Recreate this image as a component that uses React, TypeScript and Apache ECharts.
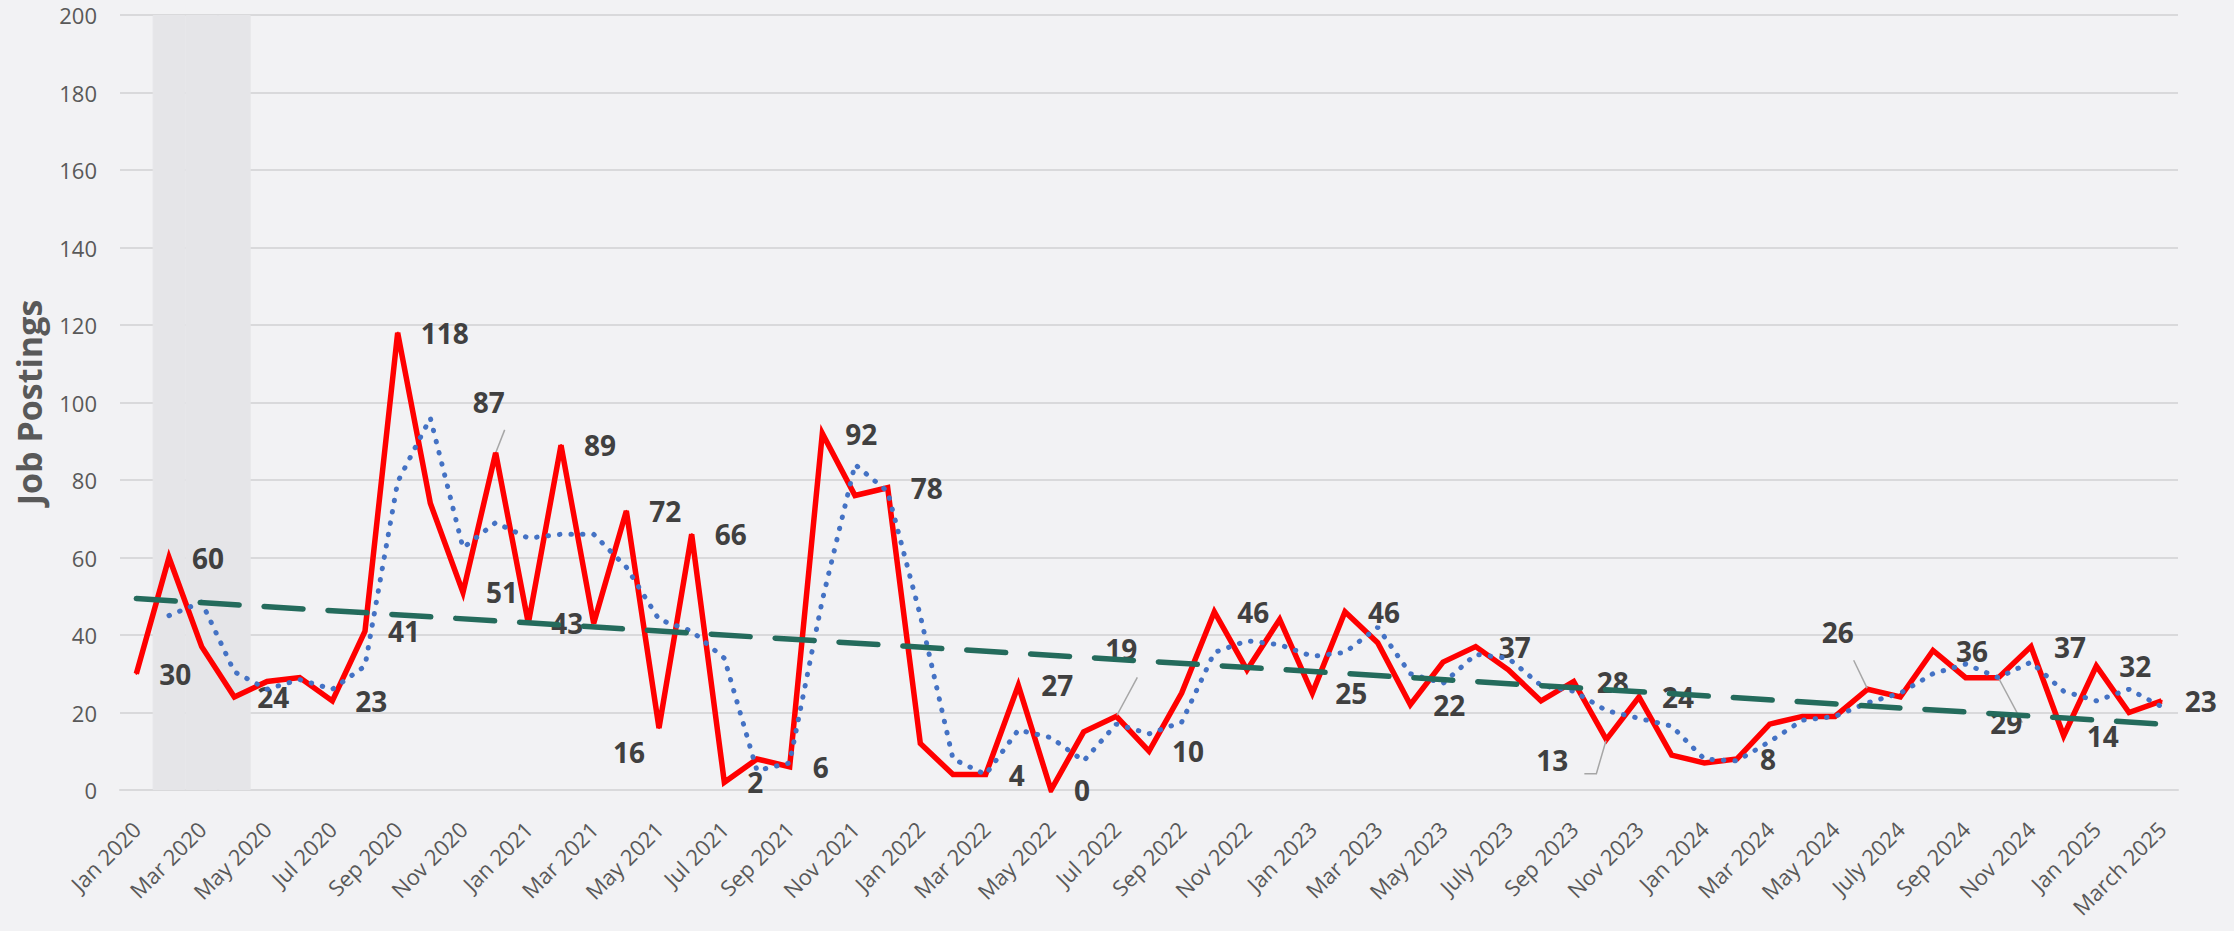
import React, { useEffect, useRef } from "react";
import * as echarts from "echarts";

// ---- data ----
const categories = [
  "Jan 2020", "Feb 2020", "Mar 2020", "Apr 2020", "May 2020", "Jun 2020", "Jul 2020", "Aug 2020", "Sep 2020", "Oct 2020", "Nov 2020", "Dec 2020",
  "Jan 2021", "Feb 2021", "Mar 2021", "Apr 2021", "May 2021", "Jun 2021", "Jul 2021", "Aug 2021", "Sep 2021", "Oct 2021", "Nov 2021", "Dec 2021",
  "Jan 2022", "Feb 2022", "Mar 2022", "Apr 2022", "May 2022", "Jun 2022", "Jul 2022", "Aug 2022", "Sep 2022", "Oct 2022", "Nov 2022", "Dec 2022",
  "Jan 2023", "Feb 2023", "Mar 2023", "Apr 2023", "May 2023", "Jun 2023", "July 2023", "Aug 2023", "Sep 2023", "Oct 2023", "Nov 2023", "Dec 2023",
  "Jan 2024", "Feb 2024", "Mar 2024", "Apr 2024", "May 2024", "Jun 2024", "July 2024", "Aug 2024", "Sep 2024", "Oct 2024", "Nov 2024", "Dec 2024",
  "Jan 2025", "Feb 2025", "March 2025",
];

const postings = [
  30, 60, 37, 24, 28, 29, 23, 41, 118, 74, 51, 87,
  43, 89, 43, 72, 16, 66, 2, 8, 6, 92, 76, 78,
  12, 4, 4, 27, 0, 15, 19, 10, 25, 46, 31, 44,
  25, 46, 38, 22, 33, 37, 31, 23, 28, 13, 24, 9,
  7, 8, 17, 19, 19, 26, 24, 36, 29, 29, 37, 14,
  32, 20, 23,
];

// 2-period moving average as drawn in the reference
const movingAvg = [
  null, 45, 48.5, 30.5, 26, 28.5, 26, 32, 79.5, 96, 62.5, 69,
  65, 66, 66, 57.5, 44, 41, 34, 5, 7, 49, 84, 77,
  45, 8, 4, 15.5, 13.5, 7.5, 17, 14.5, 17.5, 35.5, 38.5, 37.5,
  34.5, 35.5, 42, 30, 27.5, 35, 34, 27, 25.5, 20.5, 18.5, 16.5,
  8, 7.5, 12.5, 18, 19, 22.5, 25, 30, 32.5, 29, 33, 25.5,
  23, 26, 21.5,
];

const trendStart = 49.4;
const trendEnd = 17.0;

const shadedMonths = ["Feb 2020", "Mar 2020", "Apr 2020"];

const labeledMonths = [
  "Jan 2020", "Feb 2020", "Apr 2020", "Jul 2020", "Aug 2020", "Sep 2020", "Nov 2020", "Dec 2020",
  "Jan 2021", "Feb 2021", "Apr 2021", "May 2021", "Jun 2021", "Jul 2021", "Sep 2021", "Oct 2021", "Dec 2021",
  "Mar 2022", "Apr 2022", "May 2022", "Jul 2022", "Aug 2022", "Oct 2022",
  "Jan 2023", "Feb 2023", "Apr 2023", "Jun 2023", "Sep 2023", "Oct 2023", "Nov 2023",
  "Feb 2024", "Jun 2024", "Aug 2024", "Oct 2024", "Nov 2024", "Dec 2024",
  "Jan 2025", "March 2025",
];

const yMin = 0;
const yMax = 200;
const yStep = 20;

// ---- label placement (layout only) ----
const movedLabels: Record<string, { dx: number; dy: number; leader: boolean; bend?: number }> = {
  "Dec 2020": { dx: -7, dy: -51, leader: true },
  "May 2021": { dx: -30, dy: 24, leader: false },
  "Jul 2022": { dx: 5, dy: -67, leader: true },
  "Oct 2023": { dx: -54, dy: 20, leader: true, bend: 12 },
  "Jun 2024": { dx: -30, dy: -57, leader: true },
  "Oct 2024": { dx: 8, dy: 45, leader: true },
};

const FONT = "'Open Sans', 'Noto Sans', sans-serif";
const BG = "#f2f2f4";

export default function App() {
  const ref = useRef<HTMLDivElement>(null);

  useEffect(() => {
    document.body.style.margin = "0";
    document.body.style.background = BG;
    if (!ref.current) return;
    const chart = echarts.init(ref.current, null, { renderer: "svg" });

    const labelStyle = {
      fontFamily: FONT,
      fontWeight: "bold" as const,
      fontSize: 28,
      color: "#404040",
    };

    const lineData = postings.map((v, i) => {
      const cat = categories[i];
      const shown = labeledMonths.includes(cat);
      const mv = movedLabels[cat];
      if (!shown) return { value: v, label: { show: false } };
      if (mv) {
        return {
          value: v,
          label: { show: true, position: "inside", offset: [mv.dx, mv.dy], ...labelStyle },
          labelLine: {
            show: mv.leader,
            length2: mv.bend || 0,
            lineStyle: { color: "#a6a6a6", width: 1.5 },
          },
        };
      }
      return { value: v, label: { show: true, position: "right", distance: 22, ...labelStyle } };
    });

    const option: any = {
      animation: false,
      backgroundColor: BG,
      grid: { left: 120, right: 56, top: 15, bottom: 141, containLabel: false },
      xAxis: {
        type: "category",
        data: categories,
        boundaryGap: true,
        axisTick: { show: false },
        axisLine: { show: true, lineStyle: { color: "#d9d9db", width: 2 } },
        axisLabel: {
          interval: 1,
          rotate: 45,
          margin: 35,
          fontSize: 22,
          fontFamily: FONT,
          color: "#595959",
        },
        splitLine: { show: false },
      },
      yAxis: {
        type: "value",
        min: yMin,
        max: yMax,
        interval: yStep,
        name: "Job Postings",
        nameLocation: "middle",
        nameGap: 74,
        nameTextStyle: { fontSize: 34, fontWeight: "bold", fontFamily: FONT, color: "#595959" },
        axisLine: { show: false },
        axisTick: { show: false },
        axisLabel: { margin: 23, fontSize: 22, fontFamily: FONT, color: "#595959" },
        splitLine: { show: true, lineStyle: { color: "#d9d9db", width: 2 } },
      },
      series: [
        {
          type: "bar",
          data: categories.map((c) => (shadedMonths.includes(c) ? yMax : null)),
          barCategoryGap: "0%",
          barWidth: "100%",
          itemStyle: { color: "#e5e5e8", borderColor: "#e5e5e8", borderWidth: 1 },
          silent: true,
          z: 1,
        },
        {
          type: "line",
          name: "Job Postings",
          data: lineData,
          symbol: "circle",
          symbolSize: 2,
          showSymbol: true,
          itemStyle: { color: "#ff0000" },
          lineStyle: { color: "#ff0000", width: 5.5, join: "miter" },
          z: 3,
        },
        {
          type: "line",
          name: "2 per. Mov. Avg.",
          data: movingAvg,
          symbol: "none",
          connectNulls: false,
          lineStyle: { color: "#4472c4", width: 5, type: [0.5, 11], cap: "round" },
          z: 4,
        },
        {
          type: "line",
          name: "Linear trend",
          data: [
            [categories[0], trendStart],
            [categories[categories.length - 1], trendEnd],
          ],
          symbol: "none",
          lineStyle: { color: "#246b5c", width: 5.5, type: [39, 25], cap: "round" },
          z: 5,
        },
      ],
    };

    chart.setOption(option);
    return () => chart.dispose();
  }, []);

  return <div ref={ref} style={{ width: 2234, height: 931 }} />;
}
